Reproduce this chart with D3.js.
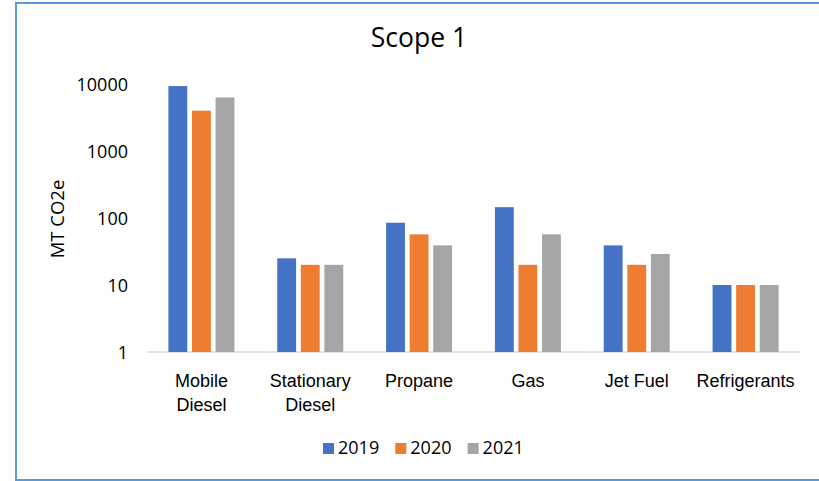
<!DOCTYPE html>
<html>
<head>
<meta charset="utf-8">
<script src="https://cdn.jsdelivr.net/npm/d3@7.9.0/dist/d3.min.js"></script>
<style>
  body { margin: 0; background: #fff; }
  svg { display: block; font-family: "Open Sans", sans-serif; }
</style>
</head>
<body>
<svg id="chart" width="819" height="481"></svg>
<script>
const categories = ["Mobile Diesel", "Stationary Diesel", "Propane", "Gas", "Jet Fuel", "Refrigerants"];
const categoryLines = [["Mobile", "Diesel"], ["Stationary", "Diesel"], ["Propane"], ["Gas"], ["Jet Fuel"], ["Refrigerants"]];
const years = ["2019", "2020", "2021"];
const values2019 = [9300, 25, 85, 145, 39, 10];
const values2020 = [4000, 20, 57, 20, 20, 10];
const values2021 = [6300, 20, 39, 57, 29, 10];
const yTicks = [1, 10, 100, 1000, 10000];
const colors = ["#4472C4", "#ED7D31", "#A5A5A5"];

const series = [values2019, values2020, values2021];
const data = categories.map((c, i) => ({
  category: c,
  lines: categoryLines[i],
  values: years.map((yr, j) => ({ year: yr, value: series[j][i] }))
}));

const svg = d3.select("#chart");
const plot = { left: 147, right: 800, top: 84, bottom: 352 };

// outer frame (left, top, bottom edges only)
svg.append("path")
  .attr("d", `M819,3H16V480H819`)
  .attr("fill", "none")
  .attr("stroke", "#5B9BD5")
  .attr("stroke-width", 2);

const x0 = d3.scaleBand().domain(categories).range([plot.left, plot.right]);
const groupW = 66;
const x1 = d3.scaleBand().domain(years)
  .range([(x0.bandwidth() - groupW) / 2, (x0.bandwidth() + groupW) / 2])
  .paddingInner(0.2);
const y = d3.scaleLog().domain([1, 10000]).range([plot.bottom, plot.top]);
const color = d3.scaleOrdinal().domain(years).range(colors);

// baseline gridline
svg.append("line")
  .attr("x1", plot.left).attr("x2", plot.right)
  .attr("y1", y(1)).attr("y2", y(1))
  .attr("stroke", "#D9D9D9")
  .attr("stroke-width", 1.5);

const groups = svg.append("g").selectAll("g")
  .data(data)
  .join("g")
  .attr("transform", d => `translate(${x0(d.category)},0)`);

groups.selectAll("rect")
  .data(d => d.values)
  .join("rect")
  .attr("x", d => x1(d.year))
  .attr("width", x1.bandwidth())
  .attr("y", d => y(d.value))
  .attr("height", d => y(1) - y(d.value))
  .attr("fill", d => color(d.year));

// y axis
const yAxis = svg.append("g")
  .attr("transform", `translate(${plot.left - 19},0)`)
  .call(d3.axisLeft(y).tickValues(yTicks).tickFormat(d3.format("d")).tickSize(0).tickPadding(0));
yAxis.select(".domain").remove();
yAxis.selectAll("text")
  .attr("font-family", "Open Sans")
  .attr("font-size", 18)
  .attr("fill", "#000")
  .attr("dy", "0.36em");

// x axis labels
const xAxis = svg.append("g")
  .attr("transform", `translate(0,${plot.bottom})`)
  .call(d3.axisBottom(x0).tickSize(0).tickFormat(""));
xAxis.select(".domain").remove();
xAxis.selectAll(".tick text").remove();
xAxis.selectAll(".tick")
  .append("text")
  .attr("text-anchor", "middle")
  .attr("font-size", 18)
  .attr("fill", "#000")
  .selectAll("tspan")
  .data((d, i) => categoryLines[i])
  .join("tspan")
  .attr("x", 0)
  .attr("y", (d, i) => 35 + i * 24)
  .text(d => d);

// axis title
svg.append("text")
  .attr("transform", "translate(64,219) rotate(-90)")
  .attr("text-anchor", "middle")
  .attr("font-size", 18.5)
  .attr("fill", "#000")
  .text("MT CO2e");

// chart title
svg.append("text")
  .attr("x", 419)
  .attr("y", 47)
  .attr("text-anchor", "middle")
  .attr("font-size", 26.5)
  .attr("fill", "#000")
  .text("Scope 1");

// legend
const legend = svg.append("g")
  .selectAll("g")
  .data(years)
  .join("g")
  .attr("transform", (d, i) => `translate(${323 + i * 72.3},443)`);
legend.append("rect")
  .attr("width", 11).attr("height", 11)
  .attr("fill", d => color(d));
legend.append("text")
  .attr("x", 15)
  .attr("y", 10.5)
  .attr("font-size", 18)
  .attr("fill", "#000")
  .text(d => d);
</script>
</body>
</html>
